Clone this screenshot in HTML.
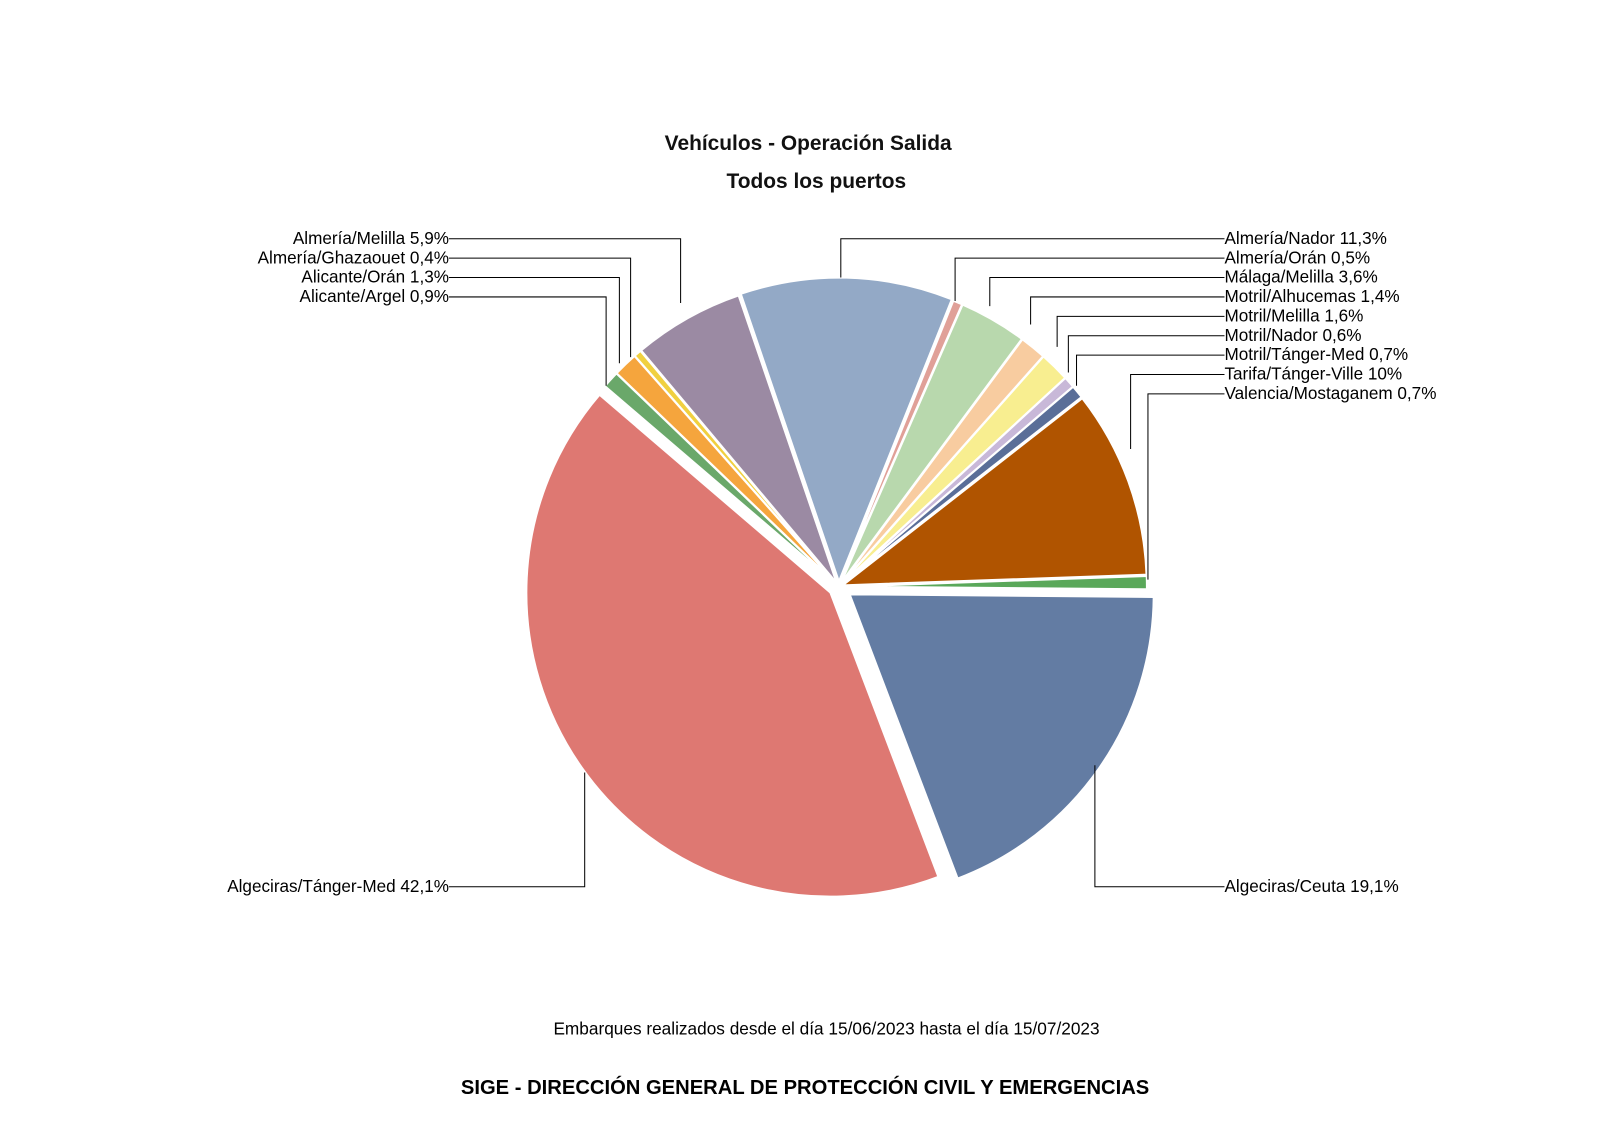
<!DOCTYPE html>
<html><head><meta charset="utf-8"><style>
html,body{margin:0;padding:0;background:#fff;}
svg{display:block;font-family:"Liberation Sans",Arial,sans-serif;}
</style></head><body>
<svg id="s" width="1600" height="1132" xmlns="http://www.w3.org/2000/svg">
<g transform="scale(1.0204)">
<g id="pie"></g>
<g stroke="#000" stroke-width="1" fill="none">
<polyline points="440,234 667,234 667,297"/>
<polyline points="440,253 618,253 618,350"/>
<polyline points="440,272 607,272 607,356"/>
<polyline points="440,291 594,291 594,378"/>
<polyline points="440,869 573,869 573,757"/>
<polyline points="1200,234 824,234 824,272"/>
<polyline points="1200,253 936,253 936,295"/>
<polyline points="1200,272 970,272 970,300"/>
<polyline points="1200,291 1010,291 1010,318"/>
<polyline points="1200,310 1036,310 1036,340"/>
<polyline points="1200,329 1047,329 1047,365"/>
<polyline points="1200,348 1055,348 1055,378"/>
<polyline points="1200,367 1108,367 1108,440"/>
<polyline points="1200,386 1125,386 1125,568"/>
<polyline points="1200,869 1073,869 1073,750"/>
</g>
<g font-size="16.8" fill="#000">
<g text-anchor="end">
<text x="440" y="239">Almería/Melilla 5,9%</text>
<text x="440" y="258">Almería/Ghazaouet 0,4%</text>
<text x="440" y="277">Alicante/Orán 1,3%</text>
<text x="440" y="296">Alicante/Argel 0,9%</text>
<text x="440" y="874">Algeciras/Tánger-Med 42,1%</text>
</g>
<text x="1200" y="239">Almería/Nador 11,3%</text>
<text x="1200" y="258">Almería/Orán 0,5%</text>
<text x="1200" y="277">Málaga/Melilla 3,6%</text>
<text x="1200" y="296">Motril/Alhucemas 1,4%</text>
<text x="1200" y="315">Motril/Melilla 1,6%</text>
<text x="1200" y="334">Motril/Nador 0,6%</text>
<text x="1200" y="353">Motril/Tánger-Med 0,7%</text>
<text x="1200" y="372">Tarifa/Tánger-Ville 10%</text>
<text x="1200" y="391">Valencia/Mostaganem 0,7%</text>
<text x="1200" y="874">Algeciras/Ceuta 19,1%</text>
</g>
<g text-anchor="middle" font-weight="bold" font-size="20.5" fill="#111">
<text x="792" y="147">Vehículos - Operación Salida</text>
<text x="800" y="184">Todos los puertos</text>
</g>
<text x="810" y="1014" text-anchor="middle" font-size="16.9">Embarques realizados desde el día 15/06/2023 hasta el día 15/07/2023</text>
<text x="789" y="1072" text-anchor="middle" font-size="19.8" font-weight="bold">SIGE - DIRECCIÓN GENERAL DE PROTECCIÓN CIVIL Y EMERGENCIAS</text>
</g>
</svg>
<script>
var d=[[19.1,"#637ca3",13],[42.1,"#de7872",10],[0.9,"#6aa86a",4],[1.3,"#f5a53d",4],[0.4,"#f0d040",4],[5.9,"#9b8aa3",4],[11.3,"#93a9c6",5],[0.5,"#e0a098",4],[3.6,"#b8d8ad",4],[1.4,"#f8cca0",4],[1.6,"#f8ee90",4],[0.6,"#c8b8d8",4],[0.7,"#5a6e98",4],[10,"#b05400",4],[0.7,"#5aa85a",4]];
var cx=822,cy=575,r=298,a=0.5,tot=100.1,g=document.getElementById("pie"),h="";
d.forEach(function(s){var sw=s[0]/tot*360,a1=a*Math.PI/180,a2=(a+sw)*Math.PI/180,m=(a1+a2)/2;
var ox=cx+s[2]*Math.cos(m),oy=cy+s[2]*Math.sin(m);
h+='<path d="M'+ox+','+oy+' L'+(ox+r*Math.cos(a1))+','+(oy+r*Math.sin(a1))+' A'+r+','+r+' 0 '+(sw>180?1:0)+' 1 '+(ox+r*Math.cos(a2))+','+(oy+r*Math.sin(a2))+' Z" fill="'+s[1]+'" stroke="#fff" stroke-width="2"/>';
a+=sw;});
g.innerHTML=h;
</script>
</body></html>
